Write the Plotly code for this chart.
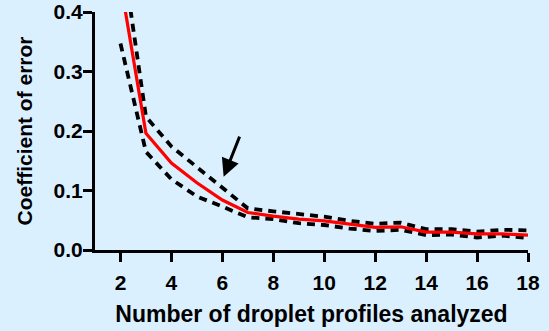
import plotly.graph_objects as go

n_profiles = [2, 3, 4, 5, 6, 7, 8, 9, 10, 11, 12, 13, 14, 15, 16, 17, 18]
cv_mean = [0.450, 0.196, 0.146, 0.113, 0.084, 0.063, 0.057, 0.052, 0.049, 0.044, 0.038, 0.039, 0.030, 0.030, 0.027, 0.027, 0.025]
cv_upper = [0.520, 0.224, 0.174, 0.140, 0.104, 0.070, 0.065, 0.060, 0.056, 0.049, 0.044, 0.046, 0.035, 0.035, 0.031, 0.034, 0.033]
cv_lower = [0.347, 0.165, 0.119, 0.090, 0.073, 0.055, 0.052, 0.045, 0.042, 0.036, 0.032, 0.034, 0.025, 0.026, 0.021, 0.024, 0.020]
x_ticks = [2, 4, 6, 8, 10, 12, 14, 16, 18]
y_ticks = [0.0, 0.1, 0.2, 0.3, 0.4]
y_tick_text = ["0.0", "0.1", "0.2", "0.3", "0.4"]

BG = "#DBF0FE"
FONT = "Liberation Sans, Arial, sans-serif"

fig = go.Figure()
for ys in (cv_upper, cv_lower):
    fig.add_trace(go.Scatter(x=n_profiles, y=ys, mode="lines",
                             line=dict(color="black", width=3.8, dash="8px,6px"),
                             showlegend=False, hoverinfo="skip"))
fig.add_trace(go.Scatter(x=n_profiles, y=cv_mean, mode="lines",
                         line=dict(color="#FF0000", width=3.2),
                         showlegend=False))

fig.add_annotation(x=6.05, y=0.123, ax=6.7, ay=0.193, xref="x", yref="y",
                   axref="x", ayref="y", text="", showarrow=True,
                   arrowhead=2, arrowsize=1.2, arrowwidth=3, arrowcolor="black")

fig.update_layout(
    width=549, height=331,
    margin=dict(l=95, r=21, t=12, b=81),
    paper_bgcolor=BG, plot_bgcolor=BG,
    font=dict(family=FONT, color="black"),
    xaxis=dict(range=[1, 18], tickvals=x_ticks, ticks="outside", ticklen=9,
               tickwidth=3, tickcolor="black", showline=True, linecolor="black",
               linewidth=3, showgrid=False, zeroline=False, automargin=False,
               ticklabelstandoff=3,
               tickfont=dict(size=21, family=FONT, weight="bold"),
               title=dict(text="<b>Number of droplet profiles analyzed</b>",
                          font=dict(size=23, family=FONT), standoff=13)),
    yaxis=dict(range=[0, 0.4], tickvals=y_ticks, ticktext=y_tick_text,
               ticks="outside", ticklen=9, tickwidth=3, tickcolor="black",
               showline=True, linecolor="black", linewidth=3, showgrid=False,
               zeroline=False, automargin=False, ticklabelstandoff=-4,
               tickfont=dict(size=21, family=FONT, weight="bold"),
               title=dict(text="<b>Coefficient of error</b>",
                          font=dict(size=21, family=FONT), standoff=16)),
)

fig.write_html("out.html", config={"displayModeBar": False},
               post_script="document.body.style.margin='0';document.body.style.background='" + BG + "';")
